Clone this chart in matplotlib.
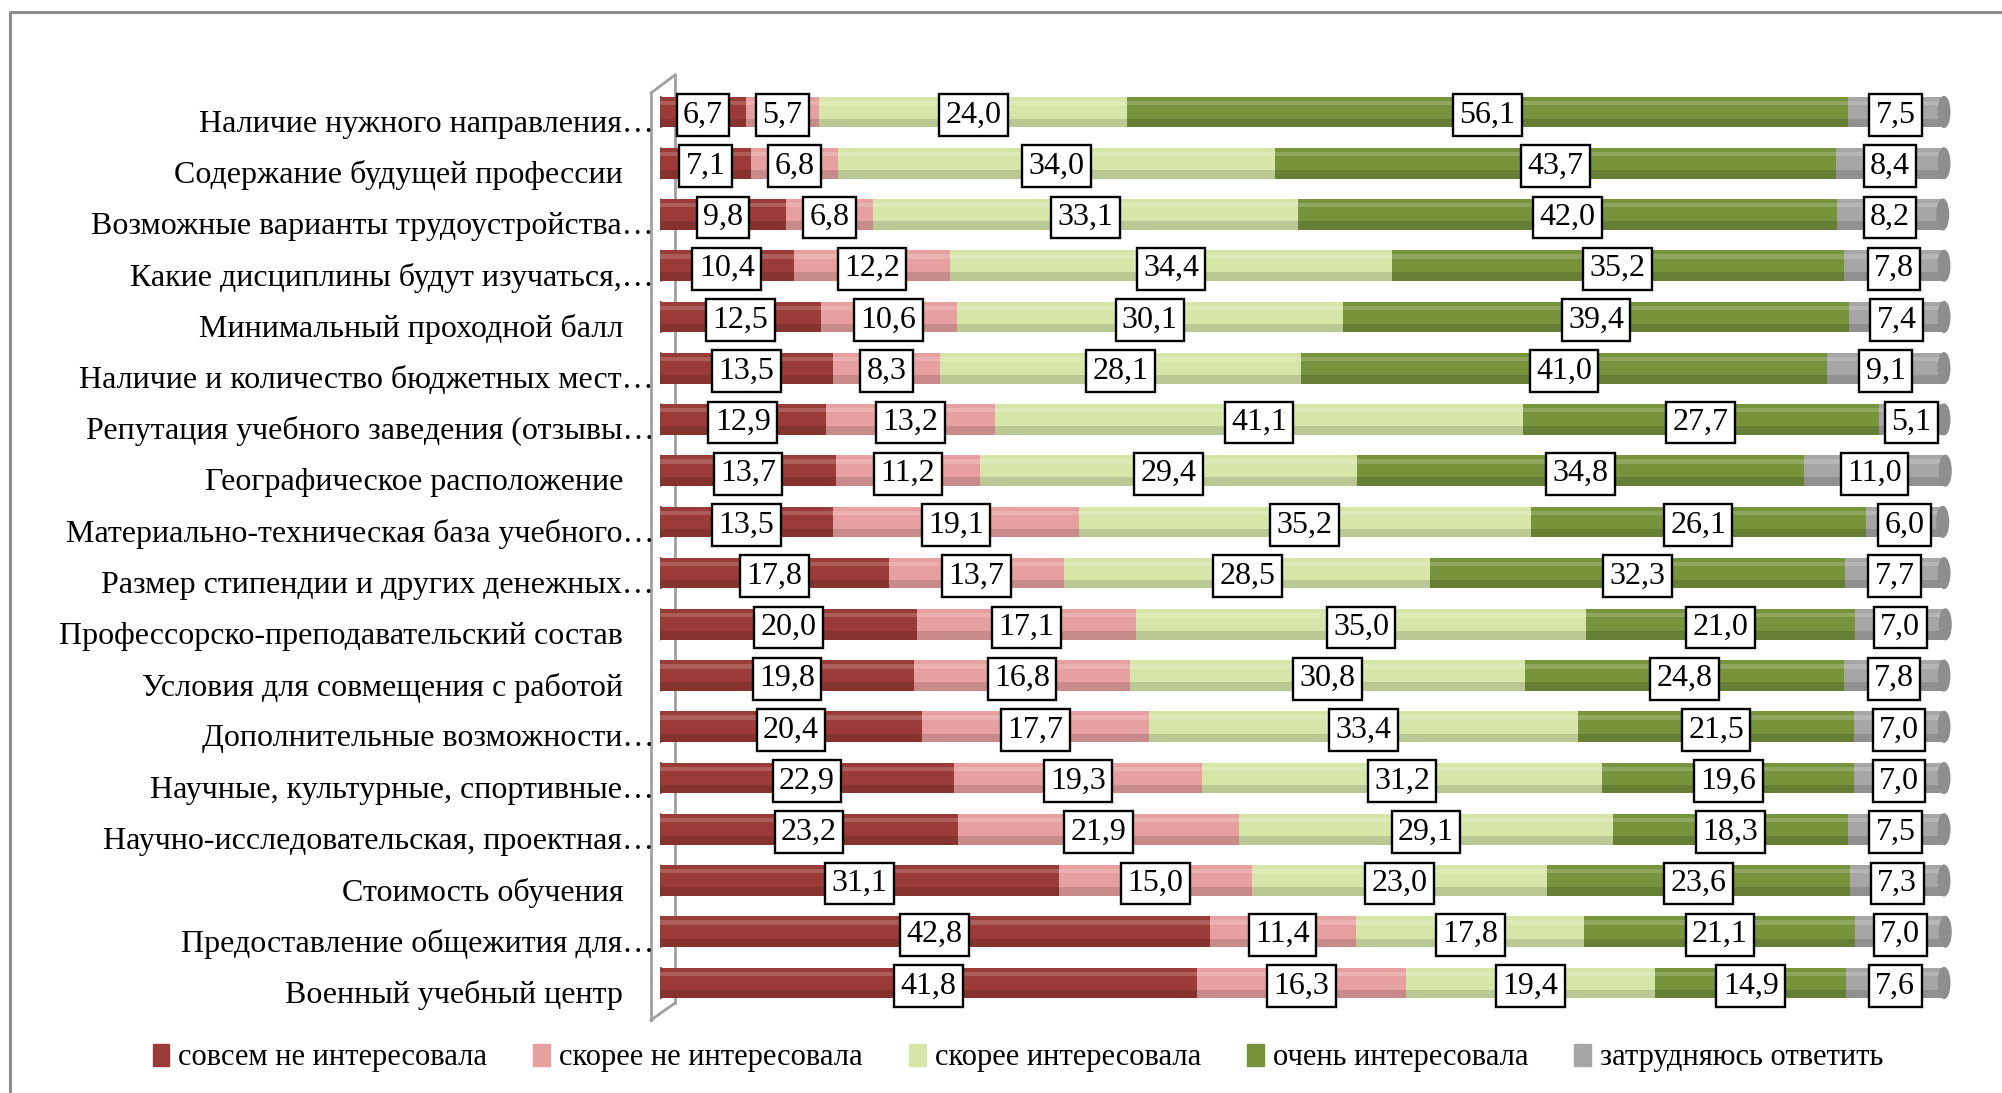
import matplotlib
matplotlib.use('Agg')
import matplotlib.pyplot as plt
import numpy as np
from matplotlib.patches import Ellipse, Patch
from matplotlib.lines import Line2D
from matplotlib.transforms import ScaledTranslation

plt.rcParams['font.family'] = ['Liberation Serif', 'DejaVu Serif']

# categories, top to bottom
categories = [
    'Наличие нужного направления…',
    'Содержание будущей профессии',
    'Возможные варианты трудоустройства…',
    'Какие дисциплины будут изучаться,…',
    'Минимальный проходной балл',
    'Наличие и количество бюджетных мест…',
    'Репутация учебного заведения (отзывы…',
    'Географическое расположение',
    'Материально-техническая база учебного…',
    'Размер стипендии и других денежных…',
    'Профессорско-преподавательский состав',
    'Условия для совмещения с работой',
    'Дополнительные возможности…',
    'Научные, культурные, спортивные…',
    'Научно-исследовательская, проектная…',
    'Стоимость обучения',
    'Предоставление общежития для…',
    'Военный учебный центр',
]

series_names = ['совсем не интересовала', 'скорее не интересовала',
                'скорее интересовала', 'очень интересовала', 'затрудняюсь ответить']

not_at_all = [6.7, 7.1, 9.8, 10.4, 12.5, 13.5, 12.9, 13.7, 13.5, 17.8, 20.0, 19.8, 20.4, 22.9, 23.2, 31.1, 42.8, 41.8]
rather_not = [5.7, 6.8, 6.8, 12.2, 10.6, 8.3, 13.2, 11.2, 19.1, 13.7, 17.1, 16.8, 17.7, 19.3, 21.9, 15.0, 11.4, 16.3]
rather_yes = [24.0, 34.0, 33.1, 34.4, 30.1, 28.1, 41.1, 29.4, 35.2, 28.5, 35.0, 30.8, 33.4, 31.2, 29.1, 23.0, 17.8, 19.4]
very_much = [56.1, 43.7, 42.0, 35.2, 39.4, 41.0, 27.7, 34.8, 26.1, 32.3, 21.0, 24.8, 21.5, 19.6, 18.3, 23.6, 21.1, 14.9]
hard_to_say = [7.5, 8.4, 8.2, 7.8, 7.4, 9.1, 5.1, 11.0, 6.0, 7.7, 7.0, 7.8, 7.0, 7.0, 7.5, 7.3, 7.0, 7.6]

colors = ['#9B3B38', '#E6A09F', '#D6E6A9', '#77933C', '#A6A6A6']

W, H = 2002, 1093
fig = plt.figure(figsize=(W / 100, H / 100), dpi=100)

# axes placement in pixels
x0, x1 = 660, 1953
ytop, ybot = 86.4, 1008.6
ax = fig.add_axes([x0 / W, 1 - ybot / H, (x1 - x0) / W, (ybot - ytop) / H])
ax.patch.set_visible(False)

data = np.array([not_at_all, rather_not, rather_yes, very_much, hard_to_say])
y = np.arange(len(categories))
h = 0.6
lefts = np.zeros(len(categories))

for k, vals in enumerate(data):
    ax.barh(y, vals, left=lefts, height=h, color=colors[k], zorder=2)
    # cylinder-ish shading
    ax.barh(y + h * 0.36, vals, left=lefts, height=h * 0.28, color='black', alpha=0.13, lw=0, zorder=3)
    ax.barh(y - h * 0.30, vals, left=lefts, height=h * 0.14, color='white', alpha=0.18, lw=0, zorder=3)
    for i, v in enumerate(vals):
        ax.text(lefts[i] + v / 2, y[i] + 0.06, f'{v:.1f}'.replace('.', ','), ha='center', va='center',
                fontsize=23, zorder=6,
                bbox=dict(boxstyle='square,pad=0.2', fc='white', ec='black', lw=1.7))
    lefts = lefts + vals

# rounded ends of the cylinders
for i in range(len(categories)):
    ax.add_patch(Ellipse((0, y[i]), 0.9, h, color=colors[0], zorder=1))
    ax.add_patch(Ellipse((lefts[i], y[i]), 0.9, h, color='#8E8E8E', zorder=4))

ax.set_xlim(0, (x1 - x0) / 12.84)
ax.set_ylim(len(categories) - 0.5, -0.5)
ax.axis('off')

# category labels
for i, name in enumerate(categories):
    off = -6 if name.endswith('…') else -37
    tr = ax.transData + ScaledTranslation(off / 100, -12 / 100, fig.dpi_scale_trans)
    ax.text(0, y[i], name, ha='right', va='center', fontsize=23, transform=tr)

# 3D wall outline and outer frame
def fl(xs, ys, **kw):
    fig.add_artist(Line2D([a / W for a in xs], [1 - b / H for b in ys],
                          transform=fig.transFigure, **kw))

wall = dict(color='#A0A0A0', lw=2, zorder=-1)
fl([651, 651], [93, 1020], **wall)
fl([675, 675], [75, 1003], **wall)
fl([651, 675], [93, 75], **wall)
fl([651, 675], [1020, 1003], **wall)
fl([10, 10, W + 5], [H + 5, 12, 12], color='#8C8C8C', lw=2.2)

handles = [Patch(color=c) for c in colors]
fig.legend(handles, series_names, loc='center', bbox_to_anchor=(1018 / W, 1 - 1058 / H),
           ncol=5, frameon=False, fontsize=22, handlelength=0.55, handleheight=0.7,
           handletextpad=0.3, columnspacing=1.5)

fig.savefig('out.png', dpi=100)
